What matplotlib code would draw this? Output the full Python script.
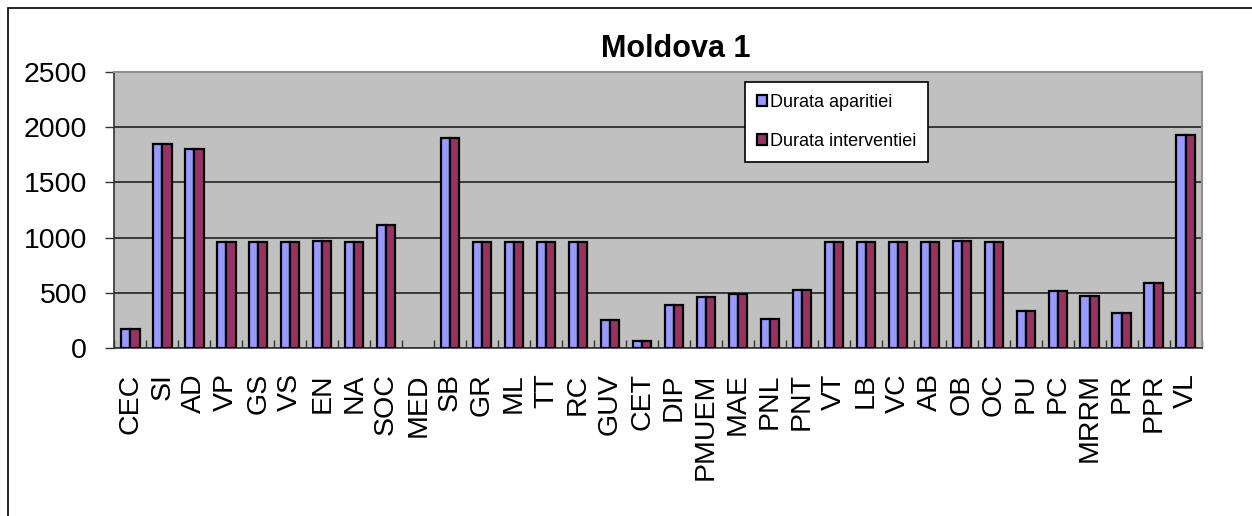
import numpy as np
import matplotlib
matplotlib.use('Agg')
import matplotlib.pyplot as plt
from matplotlib.patches import Rectangle

plt.rcParams['font.family'] = ['Liberation Sans', 'DejaVu Sans']

categories = ['CEC', 'SI', 'AD', 'VP', 'GS', 'VS', 'EN', 'NA', 'SOC', 'MED',
              'SB', 'GR', 'ML', 'TT', 'RC', 'GUV', 'CET', 'DIP', 'PMUEM', 'MAE',
              'PNL', 'PNT', 'VT', 'LB', 'VC', 'AB', 'OB', 'OC', 'PU', 'PC',
              'MRRM', 'PR', 'PPR', 'VL']
durata_aparitiei = [170, 1850, 1800, 960, 960, 960, 970, 960, 1110, 0,
                    1900, 960, 960, 960, 960, 260, 65, 395, 460, 490,
                    262, 530, 960, 960, 960, 960, 970, 960, 335, 515,
                    472, 322, 587, 1930]
durata_interventiei = [170, 1850, 1800, 960, 960, 960, 970, 960, 1110, 0,
                       1900, 960, 960, 960, 960, 260, 65, 395, 460, 490,
                       262, 530, 960, 960, 960, 960, 970, 960, 335, 515,
                       472, 322, 587, 1930]
yticks = [0, 500, 1000, 1500, 2000, 2500]

W, H = 1252, 516
fig = plt.figure(figsize=(W / 100, H / 100), dpi=100)
ax = fig.add_axes([114.3 / W, 1 - 348.3 / H, (1201.7 - 114.3) / W, (348.3 - 71.7) / H])
ax.set_facecolor('#C0C0C0')

x = np.arange(len(categories))
bw = 0.29
b1 = ax.bar(x - bw / 2, durata_aparitiei, bw, color='#9999FF', edgecolor='black',
            linewidth=1.6, label='Durata aparitiei', zorder=3)
b2 = ax.bar(x + bw / 2, durata_interventiei, bw, color='#993366', edgecolor='black',
            linewidth=1.6, label='Durata interventiei', zorder=3)
# empty categories (MED) show no bar at all
for bars in (b1, b2):
    for r in bars:
        if r.get_height() == 0:
            r.set_visible(False)

ax.set_xlim(-0.5, len(categories) - 0.5)
ax.set_ylim(0, 2500)
ax.set_yticks(yticks)
ax.yaxis.grid(True, color='#222222', linewidth=1.2, zorder=1)
ax.set_axisbelow(True)

ax.set_xticks(x)
ax.set_xticklabels(categories, rotation=90, fontsize=20.5, va='top')
ax.set_xticks(np.arange(-0.5, len(categories)), minor=True)
ax.tick_params(axis='x', which='major', length=0, pad=18)
ax.tick_params(axis='x', which='minor', direction='in', length=5.5, width=1, color='#333333')
ax.tick_params(axis='y', labelsize=20.5, length=6.5, width=1, pad=13, color='#333333')

for s in ['top', 'right']:
    ax.spines[s].set_color('#909090')
    ax.spines[s].set_linewidth(1.5)
ax.spines['left'].set_color('#333333')
ax.spines['bottom'].set_color('#333333')
ax.spines['left'].set_linewidth(1.2)
ax.spines['bottom'].set_linewidth(1.2)

leg = ax.legend(loc='upper left', bbox_to_anchor=(745 / W, 1 - 82 / H),
                bbox_transform=fig.transFigure, fontsize=13, frameon=True,
                fancybox=False, edgecolor='black', framealpha=1,
                borderaxespad=0, borderpad=0.65, labelspacing=1.25,
                handlelength=0.55, handleheight=0.55, handletextpad=0.2)
leg.get_frame().set_linewidth(1.2)

fig.text(676 / W, 1 - 49 / H, 'Moldova 1', fontsize=22, fontweight='bold',
         ha='center', va='center')

fig.patches.append(Rectangle((8 / W, -0.1), 1.2, 1 - 8 / H + 0.1, fill=False,
                             edgecolor='black', linewidth=1.2,
                             transform=fig.transFigure))

fig.savefig('out.png', dpi=100)
